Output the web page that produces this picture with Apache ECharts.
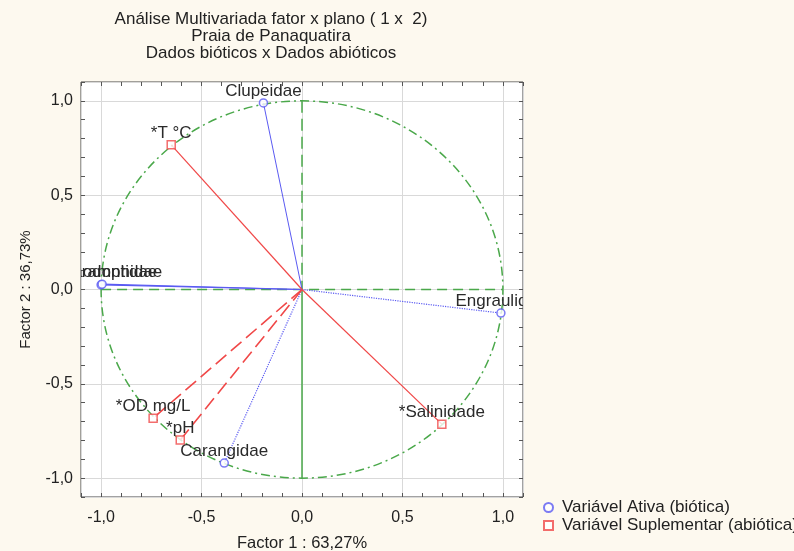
<!DOCTYPE html>
<html>
<head>
<meta charset="utf-8">
<script src="https://cdn.jsdelivr.net/npm/echarts@6/dist/echarts.min.js"></script>
<style>
html,body{margin:0;padding:0;background:#fdf9ef;}
#chart{width:794px;height:551px;}
</style>
</head>
<body>
<div id="chart"></div>
<script>
// ---- data ----
const activeNames = ['Clupeidae', 'Tetraodontidae', 'Hemiramphidae', 'Engraulidae', 'Carangidae'];
const activeF1 = [-0.192, -1.0, -0.995, 0.99, -0.387];
const activeF2 = [0.989, 0.025, 0.028, -0.125, -0.92];

const suppNames = ['*T °C', '*Salinidade', '*OD mg/L', '*pH'];
const suppF1 = [-0.651, 0.696, -0.741, -0.606];
const suppF2 = [0.767, -0.714, -0.682, -0.798];

const majorTicks = [-1.0, -0.5, 0.0, 0.5, 1.0];
const minorTicks = [-1.1, -1.0, -0.9, -0.8, -0.7, -0.6, -0.5, -0.4, -0.3, -0.2, -0.1, 0.0,
                    0.1, 0.2, 0.3, 0.4, 0.5, 0.6, 0.7, 0.8, 0.9, 1.0, 1.1];
const circleRadius = [1.0];

const titleLines = ['Análise Multivariada fator x plano ( 1 x  2)', 'Praia de Panaquatira', 'Dados bióticos x Dados abióticos'];
const xName = 'Factor 1 : 63,27%';
const yName = 'Factor 2 : 36,73%';
const legendActive = 'Variável Ativa (biótica)';
const legendSupp = 'Variável Suplementar (abiótica)';

// ---- styles ----
const FONT = '"Liberation Sans", Arial, sans-serif';
const BLUE = '#5a5af2';
const RED = '#f04848';
const GREEN = '#4aa84a';
const activeLineStyle = {
  'Clupeidae': {type: 'solid', width: 1},
  'Tetraodontidae': {type: 'solid', width: 1.2},
  'Hemiramphidae': {type: 'solid', width: 1.2},
  'Engraulidae': {type: 'dotted', width: 1.2},
  'Carangidae': {type: 'dotted', width: 1.2}
};
const suppLineStyle = {
  '*T °C': {type: 'solid', width: 1.2},
  '*Salinidade': {type: 'solid', width: 1.2},
  '*OD mg/L': {type: [14, 6], width: 1.6},
  '*pH': {type: [14, 6], width: 1.6}
};

const fmt = v => v.toFixed(1).replace('.', ',');

const series = [];

// unit circle (dash-dot)
series.push({
  type: 'custom', z: 2, silent: true, clip: true,
  data: circleRadius.map(r => [0, 0, r]),
  encode: {x: 0, y: 1},
  renderItem: function (params, api) {
    const c = api.coord([api.value(0), api.value(1)]);
    const s = api.size([api.value(2), api.value(2)]);
    return {type: 'ellipse', shape: {cx: c[0], cy: c[1], rx: s[0], ry: s[1]},
      style: {fill: 'none', stroke: GREEN, lineWidth: 1.5, lineDash: [9, 4, 2, 4]}};
  }
});
// axes cross lines
series.push({type: 'line', z: 2, silent: true, symbol: 'none', data: [[0, 1], [0, 0]],
  lineStyle: {color: GREEN, width: 1.5, type: [12, 6]}});
series.push({type: 'line', z: 2, silent: true, symbol: 'none', data: [[0, 0], [0, -1]],
  lineStyle: {color: GREEN, width: 1.5, type: 'solid'}});
series.push({type: 'line', z: 2, silent: true, symbol: 'none', data: [[-1, 0], [1, 0]],
  lineStyle: {color: GREEN, width: 1.5, type: [10, 6]}});

// vectors
activeNames.forEach((n, i) => {
  series.push({type: 'line', z: 3, silent: true, symbol: 'none',
    data: [[0, 0], [activeF1[i], activeF2[i]]],
    lineStyle: {color: BLUE, width: activeLineStyle[n].width, type: activeLineStyle[n].type}});
});
suppNames.forEach((n, i) => {
  series.push({type: 'line', z: 3, silent: true, symbol: 'none',
    data: [[0, 0], [suppF1[i], suppF2[i]]],
    lineStyle: {color: RED, width: suppLineStyle[n].width, type: suppLineStyle[n].type}});
});

// markers
series.push({
  name: legendActive, type: 'scatter', z: 5, symbol: 'circle', symbolSize: 8,
  data: activeNames.map((n, i) => [activeF1[i], activeF2[i]]),
  itemStyle: {color: '#ffffff', borderColor: BLUE, borderWidth: 1.5}
});
series.push({
  name: legendSupp, type: 'scatter', z: 5, symbol: 'rect', symbolSize: 8,
  data: suppNames.map((n, i) => [suppF1[i], suppF2[i]]),
  itemStyle: {color: '#ffffff', borderColor: RED, borderWidth: 1.5}
});

// point labels, clipped to the plot area
const allNames = activeNames.concat(suppNames);
const allF1 = activeF1.concat(suppF1);
const allF2 = activeF2.concat(suppF2);
series.push({
  type: 'custom', z: 6, silent: true, clip: true,
  data: allNames.map((n, i) => [allF1[i], allF2[i]]),
  encode: {x: 0, y: 1},
  renderItem: function (params, api) {
    const p = api.coord([api.value(0), api.value(1)]);
    return {type: 'text', x: p[0], y: p[1] - 12,
      style: {text: allNames[params.dataIndex], align: 'center', verticalAlign: 'middle',
        textAlign: 'center', textVerticalAlign: 'middle',
        fill: '#2a2a2a', font: '17px ' + FONT}};
  }
});

const common = {type: 'value', min: -1.1, max: 1.1, gridIndex: 0};
const tickAxis = (pos) => Object.assign({}, common, {
  position: pos,
  axisLine: {show: false, onZero: false},
  axisLabel: {show: false},
  splitLine: {show: false},
  axisTick: {show: true, inside: true, length: 4, customValues: minorTicks,
    lineStyle: {color: '#555', width: 1}}
});

const option = {
  backgroundColor: '#fdf9ef',
  animation: false,
  graphic: [{
    type: 'text', x: 271, y: 11, z: 10,
    style: {text: titleLines.join('\n'), align: 'center', textAlign: 'center',
      font: '17px ' + FONT, lineHeight: 17, fill: '#222'}
  }],
  grid: {left: 81, right: 271, top: 82, bottom: 54, show: true, outerBoundsMode: 'none',
    containLabel: false,
    backgroundColor: '#ffffff', borderColor: '#444', borderWidth: 1},
  legend: {
    orient: 'vertical', left: 538, top: 494, itemWidth: 9, itemHeight: 9, itemGap: 1,
    data: [
      {name: legendActive, icon: 'circle'},
      {name: legendSupp, icon: 'rect'}
    ],
    textStyle: {fontFamily: FONT, fontSize: 17, color: '#222', lineHeight: 16, padding: [0, 0, 0, 4]}
  },
  xAxis: [
    Object.assign({}, common, {
      position: 'bottom',
      name: xName, nameLocation: 'middle', nameGap: 38,
      nameTextStyle: {fontFamily: FONT, fontSize: 16.5, color: '#222'},
      axisLine: {show: false, onZero: false},
      axisTick: {show: false},
      axisLabel: {customValues: majorTicks, formatter: fmt, margin: 13,
        fontFamily: FONT, fontSize: 16, color: '#222'},
      splitLine: {show: true, lineStyle: {color: '#d9d9d9', width: 1}}
    }),
    tickAxis('bottom'),
    tickAxis('top')
  ],
  yAxis: [
    Object.assign({}, common, {
      position: 'left',
      name: yName, nameLocation: 'middle', nameGap: 48, nameRotate: 90,
      nameTextStyle: {fontFamily: FONT, fontSize: 15, color: '#222'},
      axisLine: {show: false, onZero: false},
      axisTick: {show: false},
      axisLabel: {customValues: majorTicks, formatter: fmt, margin: 8,
        fontFamily: FONT, fontSize: 16, color: '#222'},
      splitLine: {show: true, lineStyle: {color: '#d9d9d9', width: 1}}
    }),
    tickAxis('left'),
    tickAxis('right')
  ],
  series: series
};

const chart = echarts.init(document.getElementById('chart'), null, {renderer: 'canvas'});
chart.setOption(option);
</script>
</body>
</html>
